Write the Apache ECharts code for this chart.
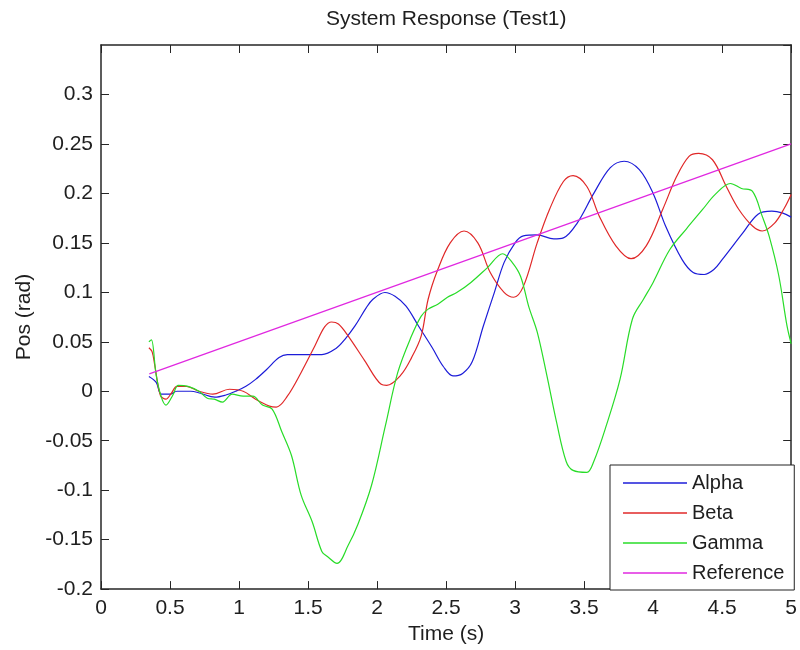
<!DOCTYPE html>
<html>
<head>
<meta charset="utf-8">
<title>System Response (Test1)</title>
<script src="https://cdn.jsdelivr.net/npm/echarts@6/dist/echarts.min.js"></script>
<style>
  html, body { margin: 0; padding: 0; background: #fff; }
  #chart { width: 800px; height: 650px; }
</style>
</head>
<body>
<div id="chart"></div>
<script>
// values: [time (s), position (rad)]
var alphaData = [
    [0.347, 0.015], [0.40, 0.009], [0.437, -0.003], [0.5, -0.003], [0.55, 0.0], [0.65, 0.0],
    [0.72, -0.002], [0.825, -0.006], [0.9, -0.004], [0.976, 0.0], [1.05, 0.005], [1.12, 0.012],
    [1.2, 0.022], [1.29, 0.034], [1.35, 0.037], [1.45, 0.037], [1.6, 0.037], [1.7, 0.043],
    [1.77, 0.053], [1.84, 0.066], [1.92, 0.084], [1.97, 0.093], [2.057, 0.0998], [2.13, 0.096],
    [2.21, 0.086], [2.30, 0.066], [2.40, 0.044], [2.48, 0.025], [2.55, 0.0155], [2.62, 0.018],
    [2.69, 0.03], [2.77, 0.066], [2.85, 0.1], [2.92, 0.13], [3.0, 0.15], [3.06, 0.157],
    [3.16, 0.158], [3.28, 0.154], [3.35, 0.155], [3.45, 0.17], [3.57, 0.2], [3.69, 0.226],
    [3.79, 0.2325], [3.9, 0.224], [4.0, 0.2], [4.09, 0.167], [4.21, 0.133], [4.29, 0.12],
    [4.37, 0.118], [4.44, 0.123], [4.5, 0.133], [4.65, 0.16], [4.76, 0.179], [4.86, 0.182],
    [4.94, 0.18], [5.0, 0.176]
];
var betaData = [
    [0.347, 0.044], [0.37, 0.04], [0.39, 0.026], [0.43, -0.004], [0.47, -0.008], [0.51, -0.002],
    [0.55, 0.005], [0.62, 0.005], [0.71, 0.0], [0.81, -0.003], [0.93, 0.002], [1.03, 0.0],
    [1.12, -0.008], [1.22, -0.015], [1.27, -0.016], [1.35, -0.005], [1.45, 0.019], [1.55, 0.046],
    [1.62, 0.065], [1.67, 0.07], [1.72, 0.068], [1.79, 0.056], [1.91, 0.031], [2.03, 0.007],
    [2.07, 0.006], [2.17, 0.016], [2.25, 0.034], [2.32, 0.056], [2.37, 0.093], [2.44, 0.123],
    [2.53, 0.15], [2.63, 0.162], [2.73, 0.15], [2.82, 0.12], [2.92, 0.1], [2.99, 0.095],
    [3.06, 0.106], [3.16, 0.15], [3.25, 0.184], [3.35, 0.212], [3.42, 0.218], [3.52, 0.207],
    [3.61, 0.177], [3.73, 0.147], [3.84, 0.134], [3.95, 0.147], [4.07, 0.184], [4.17, 0.217],
    [4.26, 0.2375], [4.33, 0.2405], [4.43, 0.234], [4.53, 0.207], [4.62, 0.184], [4.72, 0.167],
    [4.79, 0.162], [4.88, 0.17], [4.95, 0.185], [5.0, 0.199]
];
var gammaData = [
    [0.347, 0.05], [0.365, 0.052], [0.40, 0.016], [0.437, -0.006], [0.47, -0.014], [0.52, -0.004],
    [0.56, 0.006], [0.63, 0.005], [0.71, 0.0], [0.77, -0.007], [0.82, -0.008], [0.88, -0.011],
    [0.95, -0.003], [1.03, -0.005], [1.10, -0.005], [1.17, -0.014], [1.24, -0.018], [1.31, -0.041],
    [1.38, -0.065], [1.45, -0.105], [1.53, -0.132], [1.60, -0.162], [1.64, -0.167], [1.71, -0.174],
    [1.79, -0.156], [1.86, -0.135], [1.96, -0.095], [2.06, -0.035], [2.15, 0.019], [2.25, 0.056],
    [2.32, 0.076], [2.37, 0.083], [2.44, 0.088], [2.51, 0.095], [2.58, 0.1], [2.68, 0.11],
    [2.8, 0.125], [2.91, 0.139], [2.98, 0.13], [3.04, 0.116], [3.1, 0.085], [3.16, 0.06],
    [3.23, 0.016], [3.30, -0.031], [3.37, -0.071], [3.42, -0.08], [3.52, -0.082], [3.57, -0.071],
    [3.66, -0.035], [3.76, 0.012], [3.85, 0.073], [3.93, 0.093], [4.0, 0.11], [4.12, 0.143],
    [4.24, 0.164], [4.36, 0.184], [4.45, 0.199], [4.56, 0.21], [4.64, 0.205], [4.72, 0.202],
    [4.79, 0.177], [4.84, 0.157], [4.91, 0.117], [4.97, 0.066], [5.0, 0.048]
];
var referenceData = [[0.35, 0.0175], [5.0, 0.25]];

var seriesNames = ['Alpha', 'Beta', 'Gamma', 'Reference'];
var seriesColors = ['#1c1cd8', '#e02828', '#28dc28', '#e028e0'];

var chart = echarts.init(document.getElementById('chart'), null, { renderer: 'canvas' });

var font = 'Liberation Sans, Arial, Helvetica, sans-serif';
var ink = '#1e1e1e';
var axisInk = '#262626';

function tickText(v) {
    return String(+v.toFixed(2));
}

function lineSeries(idx, data) {
    return {
        name: seriesNames[idx],
        type: 'line',
        data: data,
        symbol: 'none',
        smooth: idx === 3 ? false : 0.35,
        lineStyle: { color: seriesColors[idx], width: 1.2 },
        itemStyle: { color: seriesColors[idx] },
        z: idx === 3 ? 3 : 2
    };
}

// box axes (top / right) only carry inside ticks, like the bottom / left ones
function boxAxis(pos, min, max, interval) {
    return {
        type: 'value',
        position: pos,
        min: min,
        max: max,
        interval: interval,
        axisLine: { show: true, onZero: false, lineStyle: { color: axisInk, width: 1.5 } },
        axisTick: { show: true, inside: true, length: 8, lineStyle: { color: axisInk } },
        axisLabel: { show: false },
        splitLine: { show: false }
    };
}

var option = {
    backgroundColor: '#fff',
    animation: false,
    title: {
        text: 'System Response (Test1)',
        left: 326,
        top: 9,
        padding: 0,
        textStyle: { fontFamily: font, fontSize: 21, fontWeight: 'normal', color: ink }
    },
    legend: {
        data: seriesNames.map(function (n) { return { name: n, icon: 'rect' }; }),
        orient: 'vertical',
        left: 610,
        top: 465,
        padding: [8, 10, 7, 13],
        itemWidth: 64,
        itemHeight: 1.5,
        itemGap: 10,
        backgroundColor: '#fff',
        borderColor: '#222',
        borderWidth: 1,
        borderRadius: 0,
        selectedMode: false,
        textStyle: { fontFamily: font, fontSize: 20, color: ink, lineHeight: 20 }
    },
    grid: { left: 101, right: 4, top: 45, bottom: 59, containLabel: false },
    xAxis: [{
        type: 'value',
        position: 'bottom',
        min: 0,
        max: 5,
        interval: 0.5,
        name: 'Time (s)',
        nameLocation: 'middle',
        nameGap: 34,
        nameTextStyle: { fontFamily: font, fontSize: 21, color: ink },
        axisLine: { show: true, onZero: false, lineStyle: { color: axisInk, width: 1.5 } },
        axisTick: { show: true, inside: true, length: 8, lineStyle: { color: axisInk } },
        axisLabel: { fontFamily: font, fontSize: 21, color: ink, margin: 9, formatter: tickText },
        splitLine: { show: false }
    }, boxAxis('top', 0, 5, 0.5)],
    yAxis: [{
        type: 'value',
        position: 'left',
        min: -0.2,
        max: 0.35,
        interval: 0.05,
        name: 'Pos (rad)',
        nameLocation: 'middle',
        nameGap: 66,
        nameTextStyle: { fontFamily: font, fontSize: 21, color: ink },
        axisLine: { show: true, onZero: false, lineStyle: { color: axisInk, width: 1.5 } },
        axisTick: { show: true, inside: true, length: 8, lineStyle: { color: axisInk } },
        axisLabel: { fontFamily: font, fontSize: 21, color: ink, margin: 8, showMaxLabel: false, formatter: tickText },
        splitLine: { show: false }
    }, boxAxis('right', -0.2, 0.35, 0.05)],
    series: [
        lineSeries(0, alphaData),
        lineSeries(1, betaData),
        lineSeries(2, gammaData),
        lineSeries(3, referenceData)
    ]
};

chart.setOption(option);
window.addEventListener('resize', function () {
    chart.resize();
});
</script>
</body>
</html>
